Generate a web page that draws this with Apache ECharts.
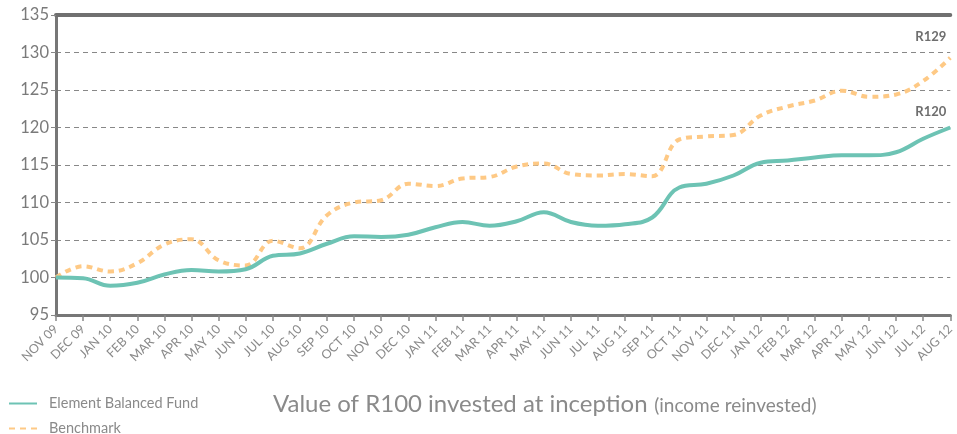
<!DOCTYPE html>
<html>
<head>
<meta charset="utf-8">
<script src="https://cdn.jsdelivr.net/npm/echarts@6/dist/echarts.min.js"></script>
<style>
  html, body { margin: 0; padding: 0; background: #fff; }
  #chart { width: 957px; height: 434px; }
</style>
</head>
<body>
<div id="chart"></div>
<script>
var months = ['NOV 09', 'DEC 09', 'JAN 10', 'FEB 10', 'MAR 10', 'APR 10', 'MAY 10', 'JUN 10', 'JUL 10', 'AUG 10',
  'SEP 10', 'OCT 10', 'NOV 10', 'DEC 10', 'JAN 11', 'FEB 11', 'MAR 11', 'APR 11', 'MAY 11', 'JUN 11', 'JUL 11',
  'AUG 11', 'SEP 11', 'OCT 11', 'NOV 11', 'DEC 11', 'JAN 12', 'FEB 12', 'MAR 12', 'APR 12', 'MAY 12', 'JUN 12',
  'JUL 12', 'AUG 12']

var fund = [100.0, 99.9, 98.9, 99.3, 100.4, 101.0, 100.8, 101.1, 102.9, 103.2,
  104.5, 105.5, 105.4, 105.7, 106.7, 107.4, 106.9, 107.5, 108.7, 107.4, 106.9,
  107.1, 108.0, 112.0, 112.5, 113.6, 115.3, 115.6, 116.0, 116.3, 116.3, 116.7,
  118.5, 120.0]

var benchmark = [100.0, 101.5, 100.8, 101.9, 104.4, 105.1, 102.3, 101.6, 104.9, 103.9,
  108.3, 110.0, 110.3, 112.5, 112.2, 113.2, 113.4, 114.8, 115.2, 113.8, 113.6,
  113.8, 113.5, 118.4, 118.8, 119.0, 121.6, 122.8, 123.6, 124.9, 124.1, 124.4,
  126.2, 129.3]

var yTicks = { min: 95, max: 135, step: 5 }

var chart = echarts.init(document.getElementById('chart'))

function endLabel(offset) {
  return {
    show: true,
    offset: offset,
    color: '#6e6e6e',
    fontFamily: 'Lato',
    fontWeight: 'bold',
    fontSize: 13,
    formatter: function (p) {
      return 'R' + Math.round(p.value)
    }
  }
}

// one legend per row, the reference stacks them
function legendRow(name, top) {
  return {
    left: 8,
    top: top,
    padding: 0,
    itemWidth: 28,
    itemHeight: 10,
    itemStyle: { opacity: 0 },
    textStyle: { color: '#8a8a8a', fontSize: 14.5, padding: [0, 0, 0, 7] },
    data: [name]
  }
}

chart.setOption({
  animation: false,
  textStyle: { fontFamily: 'Lato' },
  title: {
    text: '{main|Value of R100 invested at inception} {sub|(income reinvested)}',
    left: 268,
    top: 387,
    textStyle: {
      fontWeight: 'normal',
      rich: {
        main: { fontSize: 24, color: '#8a8a8a', fontFamily: 'Lato', fontWeight: 'normal' },
        sub: { fontSize: 19, color: '#8a8a8a', fontFamily: 'Lato', fontWeight: 'normal', padding: [3, 0, 0, 2] }
      }
    }
  },
  legend: [legendRow('Element Balanced Fund', 396), legendRow('Benchmark', 421)],
  grid: {
    left: 56,
    right: 0,
    top: 15,
    bottom: 119,
    containLabel: false
  },
  xAxis: [{
    type: 'category',
    boundaryGap: false,
    data: months,
    axisLine: { lineStyle: { color: '#777', width: 3 } },
    axisTick: { alignWithLabel: true, length: 6, lineStyle: { color: '#888', width: 1.5 } },
    axisLabel: {
      interval: 0,
      rotate: 45,
      fontSize: 12.5,
      color: '#8a8a8a',
      margin: 12
    }
  }, {
    type: 'category',
    position: 'top',
    boundaryGap: false,
    data: months,
    axisLine: { lineStyle: { color: '#707070', width: 4 } },
    axisTick: { show: false },
    axisLabel: { show: false }
  }],
  yAxis: {
    type: 'value',
    min: yTicks.min,
    max: yTicks.max,
    interval: yTicks.step,
    axisLine: { show: true, lineStyle: { color: '#777', width: 3 } },
    axisTick: { show: true, length: 5, lineStyle: { color: '#888' } },
    axisLabel: { fontSize: 16.5, color: '#7a7a7a', margin: 7 },
    splitLine: {
      lineStyle: { color: '#888', type: [5, 4], width: 1 }
    }
  },
  series: [{
    name: 'Element Balanced Fund',
    type: 'line',
    data: fund,
    smooth: 0.4,
    symbol: 'none',
    itemStyle: { color: '#6dc3b4' },
    lineStyle: { color: '#6dc3b4', width: 4 },
    endLabel: endLabel([-43, -16]),
    z: 3
  }, {
    name: 'Benchmark',
    type: 'line',
    data: benchmark,
    smooth: 0.4,
    symbol: 'none',
    itemStyle: { color: '#fec985' },
    lineStyle: { color: '#fec985', width: 4, type: [6, 5] },
    endLabel: endLabel([-43, -21]),
    z: 2
  }]
})
</script>
</body>
</html>
